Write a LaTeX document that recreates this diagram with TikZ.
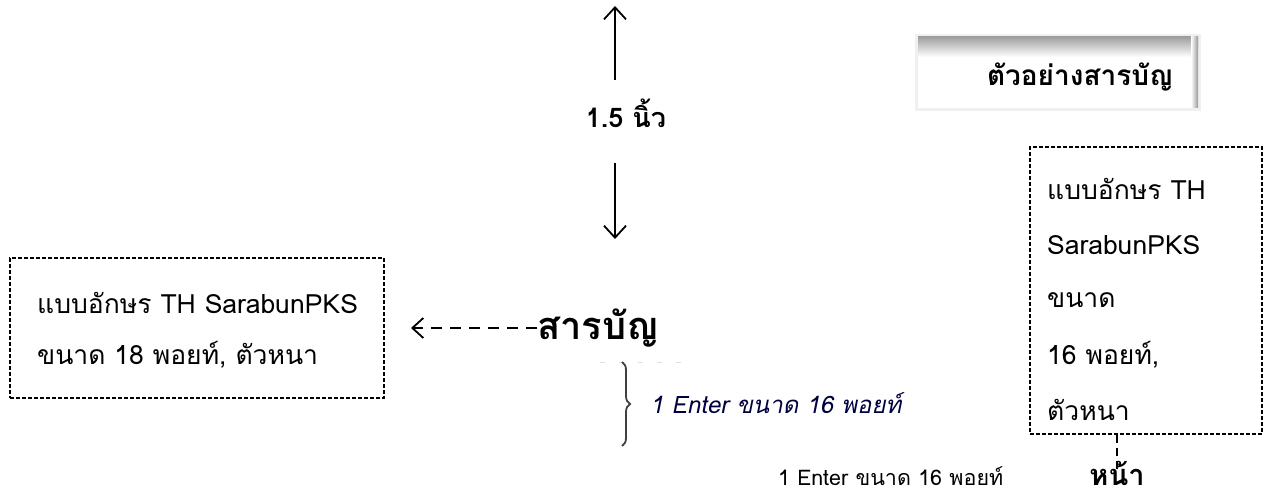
\documentclass[tikz,border=0pt]{standalone}
\usepackage{fontspec}
\setmainfont{Loma}[Script=Thai]
\newfontfamily\thaislant[Script=Thai,FakeSlant=0.2]{Loma}
\usetikzlibrary{arrows.meta,decorations.pathreplacing,calc}
\begin{document}
\begin{tikzpicture}[x=1pt,y=-1pt,
  txt/.style={inner sep=0pt,font=\fontsize{26.5}{30}\selectfont},
  boldtxt/.style={inner sep=0pt,font=\bfseries\fontsize{27}{31}\selectfont},
  dashbox/.style={draw=black,line width=1.2pt,dash pattern=on 4pt off 2pt},
  barb/.style={line width=1.8pt,-{Straight Barb[length=12pt,width=22pt,line width=1.8pt]}},
  leader/.style={line width=1.8pt,dash pattern=on 11pt off 8pt,-{Straight Barb[length=11pt,width=20pt,line width=1.8pt]}},
  drop/.style={line width=2.6pt,dash pattern=on 8pt off 5pt},
]
\useasboundingbox (0,0) rectangle (1272,497);

% --- 1.5 inch top margin marker
\node[boldtxt] (inch) at (626,113) {1.5 นิ้ว};
\coordinate (upbase) at (615,80);
\coordinate (uptip) at (615,6);
\coordinate (dnbase) at (615,163);
\coordinate (dntip) at (615,239);
\draw[barb] (upbase) -- (uptip);
\draw[barb] (dnbase) -- (dntip);

% --- sample heading box with soft shading
\fill[gray!12] (915,34) rectangle (1201,111);
\fill[white] (918,37) rectangle (1198,108);
\shade[top color=gray!75,bottom color=white] (918,37) rectangle (1198,57);
\shade[left color=white,right color=gray!80] (1191,37) rectangle (1198,108);
\node[boldtxt,font=\bfseries\fontsize{28}{32}\selectfont] (title) at (1080,77) {ตัวอย่างสารบัญ};

% --- left note box
\node[dashbox,minimum width=374pt,minimum height=140pt] (leftbox) at (197,328) {};
\node[txt,anchor=west] (l1) at (37,303) {แบบอักษร TH SarabunPKS};
\node[txt,anchor=west] (l2) at (37,355) {ขนาด 18 พอยท์, ตัวหนา};

% --- heading with leader arrow
\node[boldtxt,font=\bfseries\fontsize{38}{42}\selectfont,anchor=west] (toc) at (537,328) {สารบัญ};
\coordinate (leadtip) at (411,328);
\draw[leader] (toc.west) -- (leadtip);

% --- brace with spacing note
\draw[gray!25,line width=1pt,dash pattern=on 5pt off 14pt] (600,362) -- (684,362);
\draw[gray!50!black,line width=1.8pt,decorate,decoration={brace,amplitude=8pt,aspect=0.5}] (622,362) -- (622,446);
\node[inner sep=0pt,anchor=west,text=blue!25!black,font=\thaislant\fontsize{24}{28}\selectfont] (gap) at (650,403) {1 Enter ขนาด 16 พอยท์};

% --- right note box
\node[dashbox,minimum width=232pt,minimum height=287pt] (rightbox) at (1146,290.5) {};
\node[txt,anchor=west] (r1) at (1047,189) {แบบอักษร TH};
\node[txt,anchor=west] (r2) at (1047,245) {SarabunPKS};
\node[txt,anchor=west] (r3) at (1047,300) {ขนาด};
\node[txt,anchor=west] (r4) at (1047,355) {16 พอยท์,};
\node[txt,anchor=west] (r5) at (1047,410) {ตัวหนา};

% --- page-number label
\node[txt,anchor=west,font=\fontsize{21.5}{25}\selectfont] (enter) at (778,476) {1 Enter ขนาด 16 พอยท์};
\node[boldtxt,font=\bfseries\fontsize{29}{33}\selectfont] (page) at (1117,473) {หน้า};
\draw[drop] (rightbox.south -| page) -- ($(page.center)+(0,-2)$);
\end{tikzpicture}
\end{document}
